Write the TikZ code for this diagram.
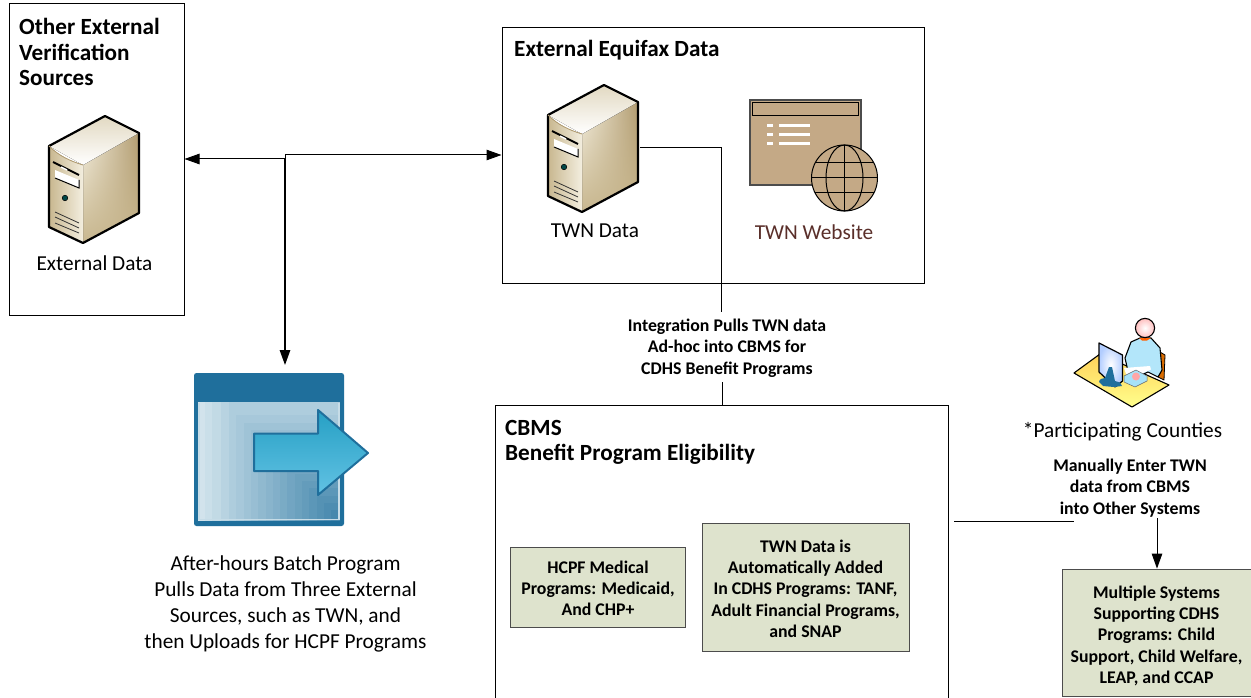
\documentclass[tikz,border=0pt]{standalone}
\usepackage{fontspec}
\setmainfont{Carlito}
\usetikzlibrary{arrows.meta,fadings}
\definecolor{boxgreen}{HTML}{DEE3CD}
\definecolor{webtan}{HTML}{C4A986}
\definecolor{sitetext}{HTML}{5A2F2A}
\definecolor{bluedark}{HTML}{1F6F9C}
\definecolor{cream}{HTML}{F3EEDF}
\definecolor{tanA}{HTML}{E2D9C2}
\definecolor{tanB}{HTML}{B29C70}
\definecolor{tanC}{HTML}{C8B78F}
\definecolor{stepA}{HTML}{AECDDD}
\definecolor{stepB}{HTML}{3A80A8}
\definecolor{arrowA}{HTML}{26A0C4}
\definecolor{arrowB}{HTML}{62C2E4}
\tikzset{
  frame/.style={draw=black,line width=1pt,fill=white,inner sep=0pt},
  greenbox/.style={draw=black!70,line width=.8pt,fill=boxgreen,align=center,font=\fontsize{17.8}{21.2}\selectfont\bfseries,inner sep=0pt},
  title/.style={anchor=north west,align=left,inner sep=0pt,font=\fontsize{23.2}{25.5}\selectfont\bfseries},
  caption/.style={align=center,inner sep=0pt,font=\fontsize{21.3}{26}\selectfont},
  note/.style={align=center,inner sep=0pt,font=\fontsize{17.8}{21.3}\selectfont\bfseries},
  conn/.style={draw=black,line width=1pt},
  tip/.style={-{Triangle[length=15pt,width=10.5pt]}},
  srv/.pic={
    % right side
    \fill[left color=cream,middle color=white,right color=tanB] (-9,-16) -- (47,-48) -- (47,32) -- (-9,62) -- cycle;
    \fill[tanC,path fading=north] (-9,-16) -- (47,-48) -- (47,32) -- (-9,62) -- cycle;
    % top
    \fill[top color=tanA,bottom color=white] (-43,-35) -- (13,-65) -- (47,-48) -- (-9,-16) -- cycle;
    % front
    \fill[left color=tanC,right color=cream] (-43,-35) .. controls (-33,-25) and (-22,-20) .. (-9,-16) -- (-9,62) -- (-43,46) -- cycle;
    \draw[black,line width=2.2pt,line join=round] (-43,-35) -- (13,-65) -- (47,-48) -- (47,32) -- (-9,62) -- (-43,46) -- cycle;
    \draw[tanB,line width=.8pt] (-43,-35) .. controls (-33,-25) and (-22,-20) .. (-9,-16);
    \draw[black,line width=1.8pt] (-39,-19) -- (-13,-6);
    \draw[white,line width=1.4pt] (-31,-14) -- (-25,-11);
    \fill[white] (-37,-11) -- (-13,-1) -- (-13,7) -- (-37,-3) -- cycle;
    \draw[black,line width=1pt] (-37,-3) -- (-13,7) -- (-13,-1);
    \fill[teal!55!black,draw=black,line width=.5pt] (-27,17) circle (2.8);
    \draw[black!80,line width=.8pt] (-37,31) -- (-13,42) (-37,36) -- (-13,47) (-37,42) -- (-13,52);
  }
}
\begin{document}
\begin{tikzpicture}[x=1pt,y=-1pt]
\useasboundingbox (0,0) rectangle (1251,698);
\fill[white] (0,0) rectangle (1251,698);

% frames
\node[frame,minimum width=175pt,minimum height=311pt] (other) at (96.5,159.5) {};
\node[frame,minimum width=422pt,minimum height=255pt] (equifax) at (713,155.5) {};
\node[frame,minimum width=453pt,minimum height=300pt,anchor=north west] (cbms) at (495,405) {};

\node[title] (otherT) at (19,18.5) {Other External\\Verification\\Sources};
\node[title] (eqT) at (514,40) {External Equifax Data};
\node[title] (cbmsT) at (505,420) {CBMS\\Benefit Program Eligibility};

% servers
\pic at (92,181) {srv};
\pic at (591,150) {srv};
\node[caption] (extcap) at (94.5,263) {External Data};
\node[caption] (twncap) at (595,231) {TWN Data};
\node[caption,text=sitetext] (sitecap) at (814,232) {TWN Website};

% website icon
\node[draw=black!70,line width=1.2pt,fill=webtan,minimum width=111pt,minimum height=85pt,inner sep=0pt] (site) at (805.5,142.5) {};
\draw[black,line width=.9pt] (752.5,102.5) rectangle (858.5,115.5);
\foreach \y in {125.5,135,144}{
  \fill[white] (767,\y-1.5) rectangle (773,\y+1.5);
  \fill[white] (779,\y-1.5) rectangle (810,\y+1.5);
}
\begin{scope}[shift={(844.5,178)}]
  \draw[black,line width=1pt,fill=webtan] (0,0) circle (33);
  \draw[black,line width=1pt] (0,0) ellipse (18.5 and 33);
  \draw[black,line width=1pt] (0,-33) -- (0,33) (-33,0) -- (33,0) (-29.4,-15) -- (29.4,-15) (-29.4,15) -- (29.4,15);
\end{scope}

% batch icon
\node[inner sep=0pt,minimum width=150pt,minimum height=153pt,fill=bluedark,rounded corners=2.5pt] (batch) at (269,449.5) {};
\fill[stepA] (198,402) rectangle (340,521);
\fill[stepA!55!white] (198,402) rectangle (205,521);
\fill[stepA!65!white] (205,402) rectangle (212,521);
\fill[stepA!75!white] (212,402) rectangle (221,521);
\fill[stepA!88!white] (221,402) rectangle (229,521);
\foreach \i in {0,...,15}{
  \pgfmathsetmacro{\pct}{100-\i*6.4}
  \pgfmathsetmacro{\xa}{229+7.3*\i}
  \pgfmathsetmacro{\ya}{408+7.3*\i}
  \fill[stepA!\pct!stepB] (\xa,\ya) rectangle (340,521);
}
\draw[stepA!70!white,line width=1.6pt] (199,403) -- (199,519.5) -- (338.8,519.5) -- (338.8,403);
\draw[bluedark,line width=2pt,line join=round,top color=arrowA,bottom color=arrowB]
  (254,433.5) -- (318,433.5) -- (318,410) -- (368,453) -- (318,495) -- (318,471) -- (254,471) -- cycle;

% person icon
\fill[orange!85!black,draw=black,line width=.8pt,line join=round] (1160,352) -- (1165,355) -- (1164,380) -- (1158,377) -- cycle;
\fill[top color=yellow!45!orange!65!white,bottom color=yellow!45!white,draw=black,line width=1.1pt,line join=round] (1074,373) -- (1100,354) -- (1169,385) -- (1132,407) -- cycle;
\fill[cyan!30!white,draw=black,line width=1.1pt,line join=round] (1131,342) -- (1140,338) -- (1151,338) -- (1160,348) -- (1162,370) -- (1158,377) -- (1148,372) -- (1130,380) -- (1125,358) -- cycle;
\fill[orange!75!red] (1139,338) -- (1151,338) -- (1147,340.5) -- (1142,340.5) -- cycle;
\shade[inner color=white,outer color=red!25!white,draw=black,line width=1.1pt] (1145,328) circle (9.6);
\fill[white] (1124,368) -- (1150,366) -- (1151,369.5) -- (1128,380) -- cycle;
\fill[cyan!35!white,draw=black!60,line width=.5pt,line join=round] (1124,376) -- (1136,370) -- (1147,376) -- (1147,381) -- (1135,387) -- (1124,382) -- cycle;
\fill[red!35!white] (1136,376.5) circle (4);
\shade[inner color=white,outer color=cyan!35!blue!30!white,draw=black,line width=1.2pt,line join=round] (1099,343) -- (1122.5,355) -- (1122.5,381) -- (1115,387) -- (1099,372) -- cycle;
\fill[bluedark] (1099,382) .. controls (1099,379) and (1103,378) .. (1105,378) -- (1109,367) -- (1112,367) -- (1115,381) .. controls (1120,382) and (1122,384) .. (1122,386) -- (1114,387) -- (1103,386) -- cycle;
\node[caption] (county) at (1122.5,431.5) {*Participating Counties};

% anchors for connectors
\coordinate (j1) at (285,159);
\coordinate (j2) at (285,155);
\coordinate (dn) at (285,365);
\coordinate (twnout) at (640,148);
\coordinate (twnBend) at (721.5,312);
\coordinate (cbmsStub) at (722,382);
\coordinate (cbmsIn) at (722,405);

% green boxes
\node[greenbox,minimum width=175pt,minimum height=80pt] (hcpf) at (598,587) {\rule{0pt}{15pt}HCPF Medical\\Programs: Medicaid,\\And CHP+};
\node[greenbox,minimum width=207pt,minimum height=128pt] (cdhs) at (805.5,587.5) {\rule{0pt}{15pt}TWN Data is\\Automatically Added\\In CDHS Programs: TANF,\\Adult Financial Programs,\\and SNAP};
\node[greenbox,minimum width=189pt,minimum height=127pt] (multi) at (1156.5,632.5) {\rule{0pt}{19pt}Multiple Systems\\Supporting CDHS\\Programs: Child\\Support, Child Welfare,\\LEAP, and CCAP};

% connectors
\draw[conn,tip] (j1) -- (other.east |- j1);
\draw[conn,tip] (j2) -- (equifax.west |- j2);
\draw[conn] (j1) -- (j2);
\draw[conn,tip,line width=1.4pt] (j1) -- (dn);
\draw[conn] (twnout) -| (twnBend);
\draw[conn] (cbmsStub) -- (cbmsIn);

\coordinate (cbmsOut) at (954,521);
\coordinate (hEnd) at (1074,521);
\coordinate (vStart) at (1157,518);
\draw[conn] (cbmsOut) -- (hEnd);
\draw[conn,tip] (vStart) -- (multi.north -| vStart);

% notes
\node[note] (pull) at (727,348) {Integration Pulls TWN data\\Ad-hoc into CBMS for\\CDHS Benefit Programs};
\node[note] (manual) at (1130,488) {Manually Enter TWN\\data from CBMS\\into Other Systems};

\node[caption] (batchcap) at (285.5,604) {After-hours Batch Program\\Pulls Data from Three External\\Sources, such as TWN, and\\then Uploads for HCPF Programs};
\end{tikzpicture}
\end{document}
